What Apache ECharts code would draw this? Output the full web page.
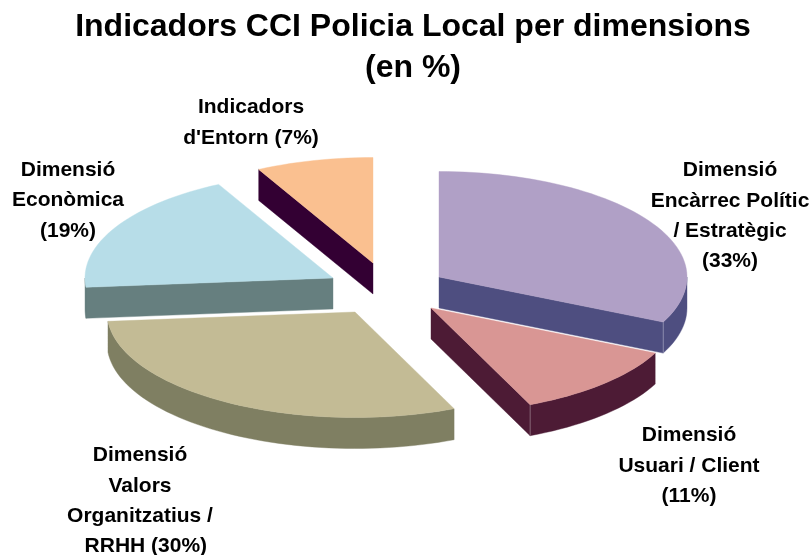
<!DOCTYPE html>
<html>
<head>
<meta charset="utf-8">
<style>html,body{margin:0;padding:0;background:#fff}#c{width:812px;height:555px}</style>
<script src="https://cdn.jsdelivr.net/npm/echarts@6/dist/echarts.min.js"></script>
</head>
<body>
<div id="c"></div>
<script>
// ---- data ----
const titleText = "Indicadors CCI Policia Local per dimensions\n(en %)";
const categories = [
  "Dimensió\nEncàrrec Polític\n/ Estratègic",
  "Dimensió\nUsuari / Client",
  "Dimensió\nValors\nOrganitzatius /\n\u00A0\u00A0RRHH",
  "Dimensió\nEconòmica",
  "Indicadors\nd'Entorn"
];
const values = [33, 11, 30, 19, 7];
const valueSeparators = ["\n", "\n", " ", "\n", " "];

// ---- look and layout ----
const topColors  = ["#B0A0C6", "#D99694", "#C3BB95", "#B7DDE8", "#FAC090"];
const wallColors = ["#4E4E80", "#4D1B35", "#7F7F62", "#667F7F", "#330033"];
const pieCenter = [395, 285];
const explodeOffsets = [[44, -8], [36, 23], [-40, 27], [-62, -7], [-22, -22]];
const labelAnchors = [[730, 155.5], [689, 420.5], [140, 440.5], [68, 155], [251, 92.5]];
const RX = 248, RY = 105.5, DEPTH = 31, LABEL_LINE = 30.3;
const FONT = '"Liberation Sans", Arial, sans-serif';

const total = values.reduce((a, b) => a + b, 0);
const rad = d => d * Math.PI / 180;
// foreshortening of the angle in the tilted 3D view
const viewAngle = d => d + 2.5 * Math.sin(rad(2 * d)) - 0.9 * (1 - Math.cos(rad(2 * d)));

function renderSlice(params, api) {
  const i = params.dataIndex;
  const before = values.slice(0, i).reduce((a, b) => a + b, 0);
  const a0 = viewAngle(before / total * 360);
  const a1 = viewAngle((before + api.value(0)) / total * 360);
  const ax = pieCenter[0] + explodeOffsets[i][0];
  const ay = pieCenter[1] + explodeOffsets[i][1];
  const rimPt = (a, drop) => [ax + RX * Math.sin(rad(a)), ay - RY * Math.cos(rad(a)) + drop];
  const arc = (from, to, drop) => {
    const n = Math.max(2, Math.ceil((to - from) / 2));
    const pts = [];
    for (let k = 0; k <= n; k++) pts.push(rimPt(from + (to - from) * k / n, drop));
    return pts;
  };
  const poly = (points, fill) => ({
    type: 'polygon', shape: { points }, style: { fill, stroke: fill, lineWidth: 0.4 }, silent: true
  });
  const wall = wallColors[i];
  const children = [];
  const radialFace = a => poly([[ax, ay], rimPt(a, 0), rimPt(a, DEPTH), [ax, ay + DEPTH]], wall);
  if (Math.sin(rad(a0)) < -1e-6) children.push(radialFace(a0));
  if (Math.sin(rad(a1)) > 1e-6) children.push(radialFace(a1));
  const r0 = Math.max(a0, 90), r1 = Math.min(a1, 270);
  if (r1 > r0) {
    const upper = arc(r0, r1, 0), lower = arc(r0, r1, DEPTH).reverse();
    children.push(poly(upper.concat(lower), wall));
    if (Math.sin(rad(a1)) > 1e-6) {
      const s = rimPt(a1, 0), e = rimPt(a1, DEPTH);
      children.push({ type: 'line', shape: { x1: s[0], y1: s[1], x2: e[0], y2: e[1] },
        style: { stroke: 'rgba(255,255,255,0.3)', lineWidth: 1 }, silent: true });
    }
  }
  children.push(poly([[ax, ay]].concat(arc(a0, a1, 0)), topColors[i]));
  children.push({
    type: 'text', silent: true, z2: 100,
    style: {
      x: labelAnchors[i][0], y: labelAnchors[i][1],
      text: categories[i] + valueSeparators[i] + "(" + api.value(0) + "%)",
      fill: '#000', font: 'bold 21px ' + FONT,
      align: 'center', verticalAlign: 'top', lineHeight: LABEL_LINE
    }
  });
  return { type: 'group', children };
}

const chart = echarts.init(document.getElementById('c'), null, { renderer: 'canvas' });
chart.setOption({
  animation: false,
  backgroundColor: '#fff',
  title: {
    text: titleText, left: 413, top: 6.5, padding: 0, textAlign: 'center',
    textStyle: { fontFamily: FONT, fontWeight: 'bold', fontSize: 32, lineHeight: 41, color: '#000' }
  },
  series: [{
    type: 'custom',
    coordinateSystem: 'none',
    data: values.map(v => [v]),
    renderItem: renderSlice
  }]
});
</script>
</body>
</html>
